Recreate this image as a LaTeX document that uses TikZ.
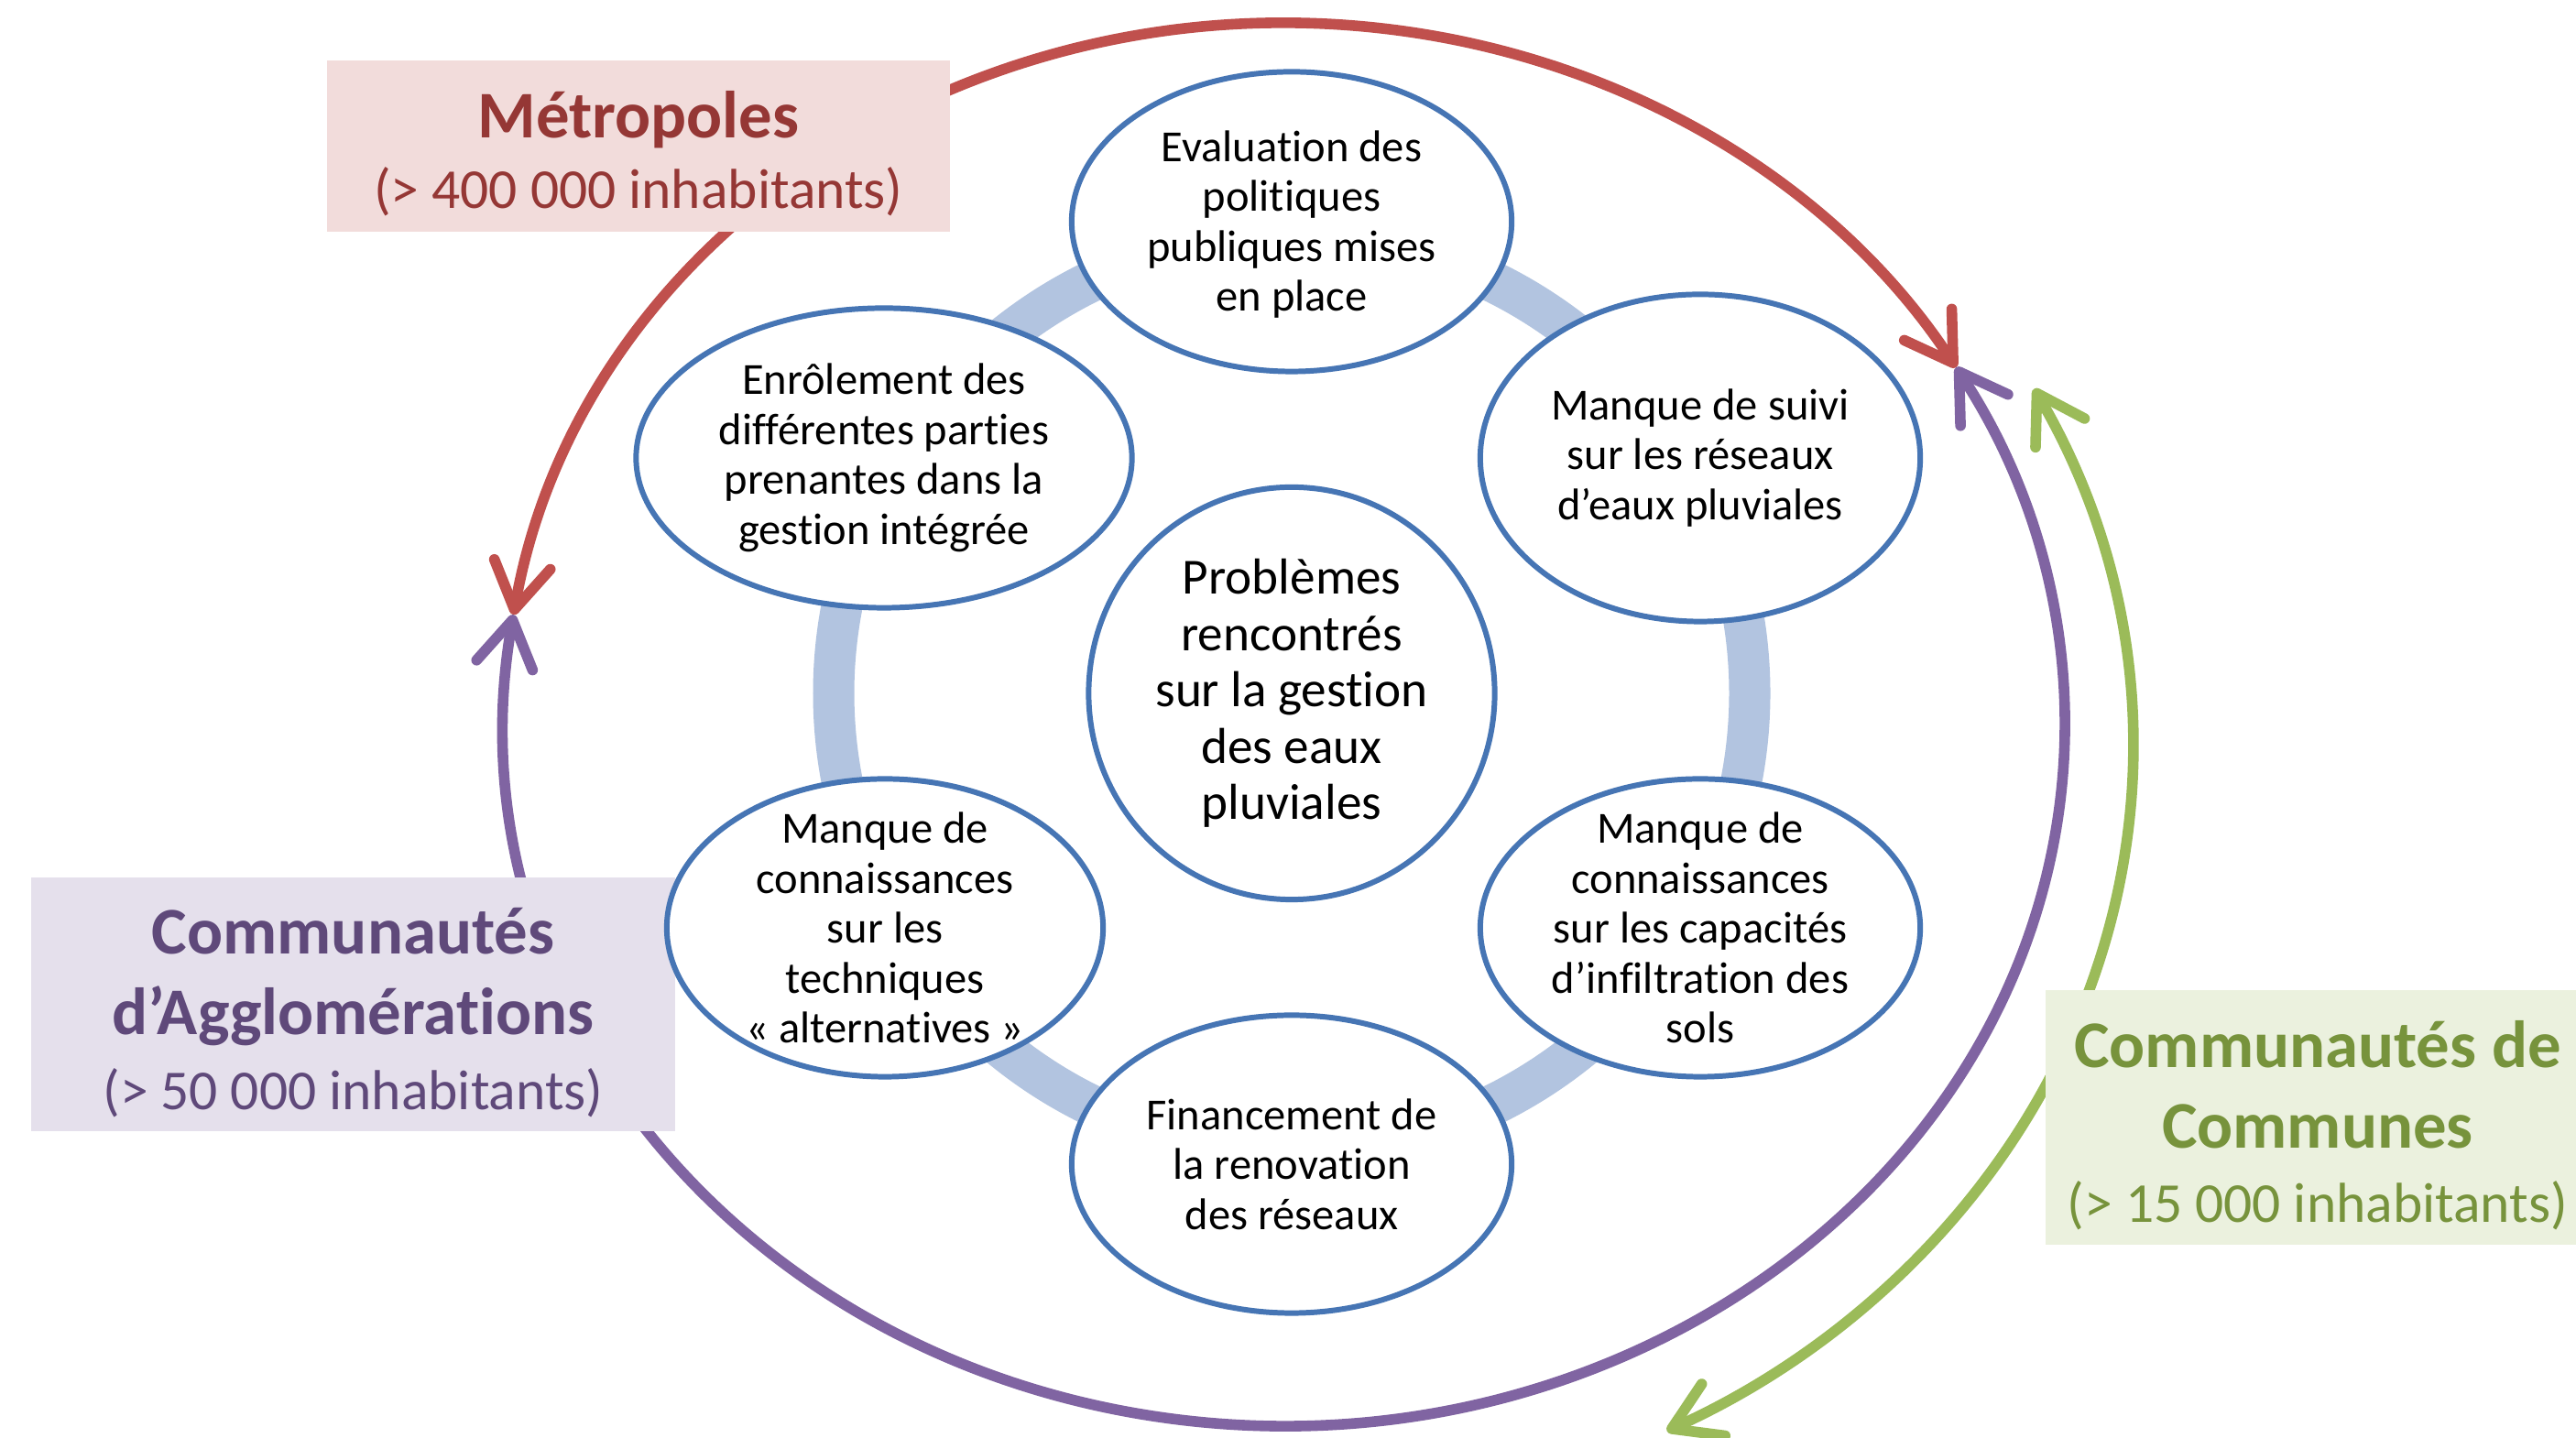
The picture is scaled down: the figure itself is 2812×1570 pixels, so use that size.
\documentclass[tikz,border=0pt]{standalone}
\usepackage{fontspec}
\setmainfont{Carlito}[Ligatures=NoCommon]
\usetikzlibrary{arrows.meta,shapes.geometric,calc}
\definecolor{redA}{RGB}{192,80,77}
\definecolor{purpA}{RGB}{128,100,162}
\definecolor{greenA}{RGB}{155,187,89}
\definecolor{ringC}{RGB}{178,196,224}
\definecolor{blueL}{RGB}{70,117,180}
\definecolor{metroF}{RGB}{242,220,219}
\definecolor{metroT}{RGB}{149,55,53}
\definecolor{aggloF}{RGB}{229,224,236}
\definecolor{aggloT}{RGB}{95,73,122}
\definecolor{commF}{RGB}{235,241,222}
\definecolor{commT}{RGB}{119,147,60}
\begin{document}
\begin{tikzpicture}[x=0.01cm,y=0.01cm,
  >={Straight Barb[length=5mm,width=6.2mm,round]},
  cyc/.style={line width=3.3pt,<->},
  bubble/.style={ellipse, draw=blueL, line width=1.7pt, fill=white, inner sep=0pt},
  btext/.style={align=center, inner sep=0pt, font=\fontsize{13.8}{15.5}\selectfont},
  lab/.style={rectangle, inner sep=0pt},
  labtext/.style={align=center, inner sep=0pt}]
\useasboundingbox (0,0) rectangle (2812,1570);
\clip (0,0) rectangle (2812,1570);
\fill[white] (0,0) rectangle (2812,1570);
% ring
\coordinate (C) at (1410,813);
\draw[ringC, line width=0.45cm] (C) circle[radius=500];
% outer cycles
\coordinate (RP) at (1402,779);
\coordinate (GC) at (1410,754);
\coordinate (L) at ($(RP)+(171:852 and 766)$);
\coordinate (R) at ($(RP)+(30.6:852 and 766)$);
\draw[cyc, redA] (L) arc[start angle=171, end angle=30.6, x radius=852, y radius=766];
\draw[cyc, purpA] (L) arc[start angle=171, end angle=390.6, x radius=852, y radius=766];
\coordinate (GT) at ($(GC)+(28:918 and 834)$);
\draw[cyc, greenA] (GT) arc[start angle=28, end angle=-63.5, x radius=918, y radius=834];
% label boxes
\node[lab, fill=metroF, minimum width=6.80cm, minimum height=1.87cm] (metro) at (697,1410.5) {};
\node[labtext, text=metroT, font=\fontsize{20.7}{22}\selectfont] (metrot) at ($(metro)+(0,-8)$)
  {\textbf{Métropoles}\\{\fontsize{17.5}{21}\selectfont (> 400 000 inhabitants)}};
\node[lab, fill=aggloF, minimum width=7.03cm, minimum height=2.77cm] (agglo) at (385.5,473.5) {};
\node[labtext, text=aggloT, font=\fontsize{20.7}{25}\selectfont] (agglot) at ($(agglo)+(0,-9)$)
  {\textbf{Communautés}\\\textbf{d’Agglomérations}\\[-1.7pt]{\fontsize{17.5}{21}\selectfont (> 50 000 inhabitants)}};
\node[lab, fill=commF, minimum width=5.94cm, minimum height=2.78cm] (comm) at (2530,350) {};
\node[labtext, text=commT, font=\fontsize{20.7}{25}\selectfont] (commt) at ($(comm)+(0,-9)$)
  {\textbf{Communautés de}\\\textbf{Communes}\\[-2pt]{\fontsize{17.5}{21}\selectfont (> 15 000 inhabitants)}};
% bubbles
\node[bubble, minimum width=4.80cm, minimum height=3.27cm] (e1) at (1410,1328) {};
\node[btext] (t1) at ($(e1)+(0,-3)$) {Evaluation des\\politiques\\publiques mises\\en place};
\node[bubble, minimum width=4.80cm, minimum height=3.57cm] (e2) at (1856,1070) {};
\node[btext] (t2) at (e2) {Manque de suivi\\sur les réseaux\\d’eaux pluviales};
\node[bubble, minimum width=4.80cm, minimum height=3.25cm] (e3) at (1856,557) {};
\node[btext] (t3) at (e3) {Manque de\\connaissances\\sur les capacités\\d’infiltration des\\sols};
\node[bubble, minimum width=4.80cm, minimum height=3.25cm] (e4) at (1410,299) {};
\node[btext] (t4) at (e4) {Financement de\\la renovation\\des réseaux};
\node[bubble, minimum width=4.76cm, minimum height=3.25cm] (e5) at (966,557) {};
\node[btext] (t5) at (e5) {Manque de\\connaissances\\sur les\\techniques\\« alternatives »};
\node[bubble, minimum width=5.41cm, minimum height=3.27cm] (e6) at (965,1070) {};
\node[btext] (t6) at (e6) {Enrôlement des\\différentes parties\\prenantes dans la\\gestion intégrée};
\node[bubble, minimum width=4.43cm, minimum height=4.50cm] (e0) at (C) {};
\node[align=center, inner sep=0pt, font=\fontsize{15.7}{17.5}\selectfont] (t0) at (e0)
  {Problèmes\\rencontrés\\sur la gestion\\des eaux\\pluviales};
\end{tikzpicture}
\end{document}
